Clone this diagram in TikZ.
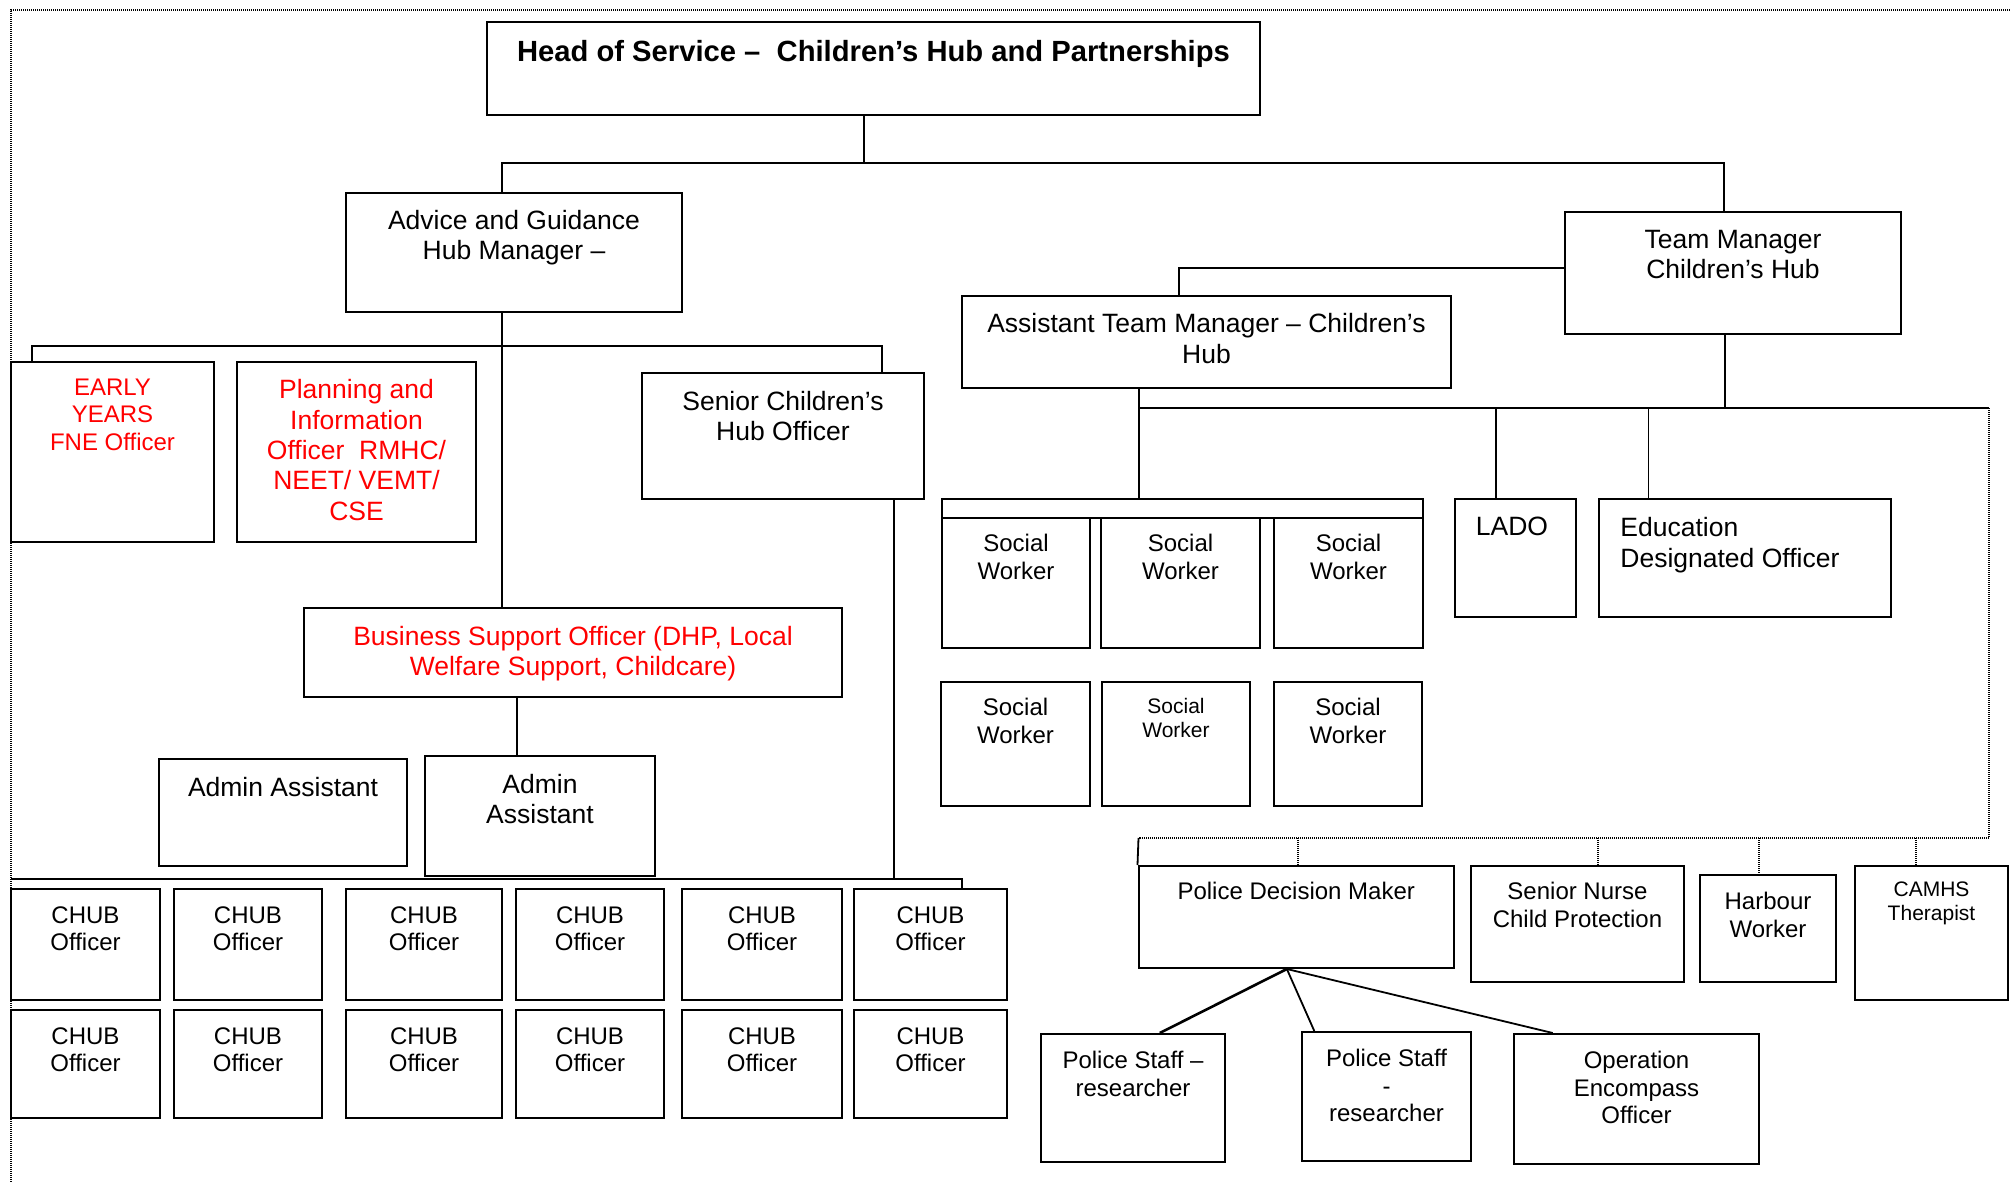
\documentclass[tikz,border=0pt]{standalone}
\usepackage{fontspec}
\setmainfont{Liberation Sans}
\usetikzlibrary{positioning,fit}

\begin{document}
\begin{tikzpicture}[x=0.5pt, y=-0.5pt,
    box/.style={draw, line width=1pt, fill=white, inner sep=0pt},
    lbl/.style={align=center, inner sep=0pt},
    big/.style={font=\fontsize{13.25}{15.2}\selectfont},
    sml/.style={font=\fontsize{12}{13.7}\selectfont},
    tny/.style={font=\fontsize{10.5}{12}\selectfont},
    link/.style={line width=0.9pt},
    bus/.style={line width=1.3pt},
    dots/.style={line width=0.7pt, dash pattern=on 0.5pt off 0.5pt}]

  \useasboundingbox (0,0) rectangle (2010,1182);
  \draw[dots] (2010,10) -| (11,1182);

  % head and managers
  \node[box, fit={(487,22) (1260,115)}] (head) {};
  \node[lbl, below=9.3pt of head.north, font=\fontsize{14.6}{17}\selectfont\bfseries] (headt) {Head of Service –\ \ Children’s Hub and Partnerships};
  \node[box, fit={(346,193) (682,312)}] (agm) {};
  \node[lbl, big, below=8.8pt of agm.north] (agmt) {Advice and Guidance\\Hub Manager –};
  \node[box, fit={(1565,212) (1901,334)}] (tm) {};
  \node[lbl, big, below=9.2pt of tm.north] (tmt) {Team Manager\\Children’s Hub};
  \node[box, fit={(962,296) (1451,388)}] (atm) {};
  \node[lbl, big, below=9pt of atm.north] (atmt) {Assistant Team Manager – Children’s\\Hub};

  % advice and guidance side
  \node[box, fit={(11,362) (214,542)}] (ey) {};
  \node[lbl, sml, text=red, below=8.8pt of ey.north] (eyt) {EARLY\\YEARS\\FNE Officer};
  \node[box, fit={(237,362) (476,542)}] (pio) {};
  \node[lbl, big, text=red, below=9pt of pio.north] (piot) {Planning and\\Information\\Officer\ \ RMHC/\\NEET/ VEMT/\\CSE};
  \node[box, fit={(642,373) (924,499)}] (scho) {};
  \node[lbl, big, below=9.2pt of scho.north] (schot) {Senior Children’s\\Hub Officer};
  \node[box, fit={(304,608) (842,697)}] (bso) {};
  \node[lbl, big, text=red, below=9.2pt of bso.north] (bsot) {Business Support Officer (DHP, Local\\Welfare Support, Childcare)};
  \node[box, fit={(159,759) (407,866)}] (aa1) {};
  \node[lbl, big, below=9.5pt of aa1.north] (aa1t) {Admin Assistant};
  \node[box, fit={(425,756) (655,876)}] (aa2) {};
  \node[lbl, big, below=9.2pt of aa2.north] (aa2t) {Admin\\Assistant};

  % CHUB officers
  \foreach \xa/\xb [count=\i] in {11/160, 174/322, 346/502, 516/664, 682/842, 854/1007} {
    \node[box, fit={(\xa,889) (\xb,1000)}] (c1\i) {};
    \node[lbl, sml, below=9pt of c1\i.north] (ct1\i) {CHUB\\Officer};
    \node[box, fit={(\xa,1010) (\xb,1118)}] (c2\i) {};
    \node[lbl, sml, below=9pt of c2\i.north] (ct2\i) {CHUB\\Officer};
  }

  % social workers
  \node[box, fit={(942,499) (1423,518)}] (swg) {};
  \foreach \xa/\xb [count=\i] in {942/1090, 1101/1260, 1274/1423} {
    \node[box, fit={(\xa,518) (\xb,648)}] (sw1\i) {};
    \node[lbl, sml, below=8.6pt of sw1\i.north] (swt1\i) {Social\\Worker};
  }
  \node[box, fit={(941,682) (1090,806)}] (sw21) {};
  \node[lbl, sml, below=8.6pt of sw21.north] (swt21) {Social\\Worker};
  \node[box, fit={(1102,682) (1250,806)}] (sw22) {};
  \node[lbl, tny, below=8.6pt of sw22.north] (swt22) {Social\\Worker};
  \node[box, fit={(1274,682) (1422,806)}] (sw23) {};
  \node[lbl, sml, below=8.6pt of sw23.north] (swt23) {Social\\Worker};

  \node[box, fit={(1455,499) (1576,617)}] (lado) {};
  \node[lbl, big, below=9.5pt of lado.north, xshift=-1.75pt] (ladot) {LADO};
  \node[box, fit={(1599,499) (1891,617)}] (edo) {};
  \node[lbl, big, align=left, below right=9.5pt and 11pt of edo.north west] (edot) {Education\\Designated Officer};

  % partner agencies
  \node[box, fit={(1138.5,866) (1454,968)}] (pdm) {};
  \node[lbl, sml, below=8.6pt of pdm.north] (pdmt) {Police Decision Maker};
  \node[box, fit={(1471,866) (1684,982)}] (snc) {};
  \node[lbl, sml, below=8.6pt of snc.north] (snct) {Senior Nurse\\Child Protection};
  \node[box, fit={(1700,875) (1836,982)}] (hw) {};
  \node[lbl, sml, below=9pt of hw.north] (hwt) {Harbour\\Worker};
  \node[box, fit={(1855,866) (2008,1000)}] (camhs) {};
  \node[lbl, tny, below=8pt of camhs.north] (camhst) {CAMHS\\Therapist};
  \node[box, fit={(1041,1034) (1225,1162)}] (ps1) {};
  \node[lbl, sml, below=9pt of ps1.north] (ps1t) {Police Staff –\\researcher};
  \node[box, fit={(1302,1032) (1471,1161)}] (ps2) {};
  \node[lbl, sml, below=9pt of ps2.north] (ps2t) {Police Staff\\-\\researcher};
  \node[box, fit={(1514,1034) (1759,1164)}] (oeo) {};
  \node[lbl, sml, below=9pt of oeo.north] (oeot) {Operation\\Encompass\\Officer};

  % connectors
  \coordinate (hj) at (864,163);
  \coordinate (agj) at (502,163);
  \coordinate (tmj) at (1724,163);
  \draw[link] (head.south -| hj) -- (hj);
  \draw[link] (agm.north -| agj) |- (tmj) -- (tm.north -| tmj);

  \coordinate (abj) at (502,346);
  \coordinate (eyj) at (32,346);
  \coordinate (scj) at (882,346);
  \draw[link] (agm.south -| abj) -- (bso.north -| abj);
  \draw[bus] (ey.north -| eyj) |- (scj) -- (scho.north -| scj);

  \coordinate (cbl) at (11,879);
  \coordinate (cbr) at (962,879);
  \coordinate (cbs) at (894,879);
  \draw[link] (scho.south -| cbs) -- (cbs);
  \draw[bus] (cbl) -- (cbr) -- (c16.north -| cbr);

  \coordinate (aaj) at (517,700);
  \draw[link] (bso.south -| aaj) -- (aa2.north -| aaj);

  \coordinate (atj) at (1179,268);
  \draw[link] (tm.west |- atj) -| (atm.north -| atj);

  \coordinate (tbj) at (1725,408);
  \coordinate (swj) at (1139,408);
  \coordinate (rbj) at (1989,408);
  \coordinate (ldj) at (1496,408);
  \coordinate (edj) at (1648.5,408);
  \draw[link] (tm.south -| tbj) -- (tbj);
  \draw[link] (atm.south -| swj) -- (swg.north -| swj);
  \draw[link] (swj) -- (rbj);
  \draw[link] (ldj) -- (lado.north -| ldj);
  \draw[link] (edj) -- (edo.north -| edj);

  \coordinate (pbl) at (1138.5,838);
  \draw[dots] (rbj) |- (pbl);
  \draw[link] (pbl) -- (pdm.north west);
  \coordinate (pdj) at (1298,838);
  \coordinate (snj) at (1598,838);
  \coordinate (hwj) at (1759,838);
  \coordinate (caj) at (1916,838);
  \foreach \c/\n in {pdj/pdm, snj/snc, hwj/hw, caj/camhs}
    \draw[dots] (\c) -- (\n.north -| \c);

  \draw[bus] ([xshift=-4.7pt]pdm.south) -- ([xshift=13.4pt]ps1.north);
  \draw[link] ([xshift=-4.7pt]pdm.south) -- ([xshift=-36.1pt]ps2.north);
  \draw[link] ([xshift=-4.7pt]pdm.south) -- ([xshift=-41.9pt]oeo.north);
\end{tikzpicture}
\end{document}
